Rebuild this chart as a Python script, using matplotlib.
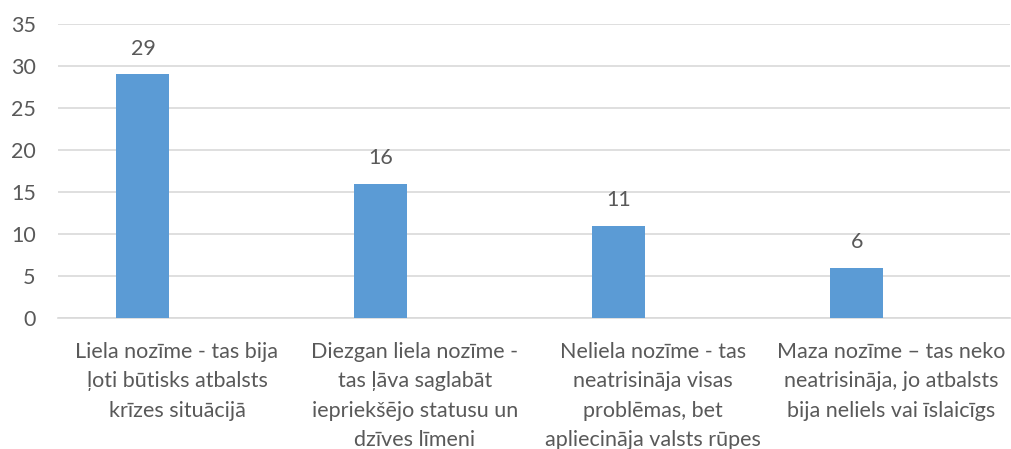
import numpy as np
import matplotlib.pyplot as plt

plt.rcParams['font.family'] = ['Lato', 'DejaVu Sans']

categories = [
    "Liela nozīme - tas bija\nļoti būtisks atbalsts\nkrīzes situācijā",
    "Diezgan liela nozīme -\ntas ļāva saglabāt\niepriekšējo statusu un\ndzīves līmeni",
    "Neliela nozīme - tas\nneatrisināja visas\nproblēmas, bet\napliecināja valsts rūpes",
    "Maza nozīme – tas neko\nneatrisināja, jo atbalsts\nbija neliels vai īslaicīgs",
]
values = [29, 16, 11, 6]

text_color = '#595959'
grid_color = '#d9d9d9'
bar_color = '#5b9bd5'

fig = plt.figure(figsize=(10.12, 4.49), dpi=100)
ax = fig.add_axes([0.0573, 0.2918, 0.9407, 0.6547])

x = np.arange(len(values))
bars = ax.bar(x - 0.143, values, width=0.223, color=bar_color, zorder=3)

# value labels above each bar
for b, v in zip(bars, values):
    ax.text(b.get_x() + b.get_width() / 2, v + 1.8, str(v),
            ha='center', va='bottom', fontsize=15.5, color=text_color)

ax.set_xlim(-0.5, len(values) - 0.5)
ax.set_ylim(0, 35)
ax.set_yticks(range(0, 36, 5))
ax.yaxis.grid(True, color=grid_color, linewidth=1.2, zorder=0)

ax.set_xticks(x)
ax.set_xticklabels(categories, linespacing=1.6)
ax.tick_params(axis='x', length=0, pad=17, labelsize=15.5, labelcolor=text_color)
ax.tick_params(axis='y', length=0, pad=16, labelsize=15.5, labelcolor=text_color)

for s in ['top', 'right', 'left']:
    ax.spines[s].set_visible(False)
ax.spines['bottom'].set_color(grid_color)
ax.spines['bottom'].set_linewidth(1.2)

fig.savefig('out.png', dpi=100)
